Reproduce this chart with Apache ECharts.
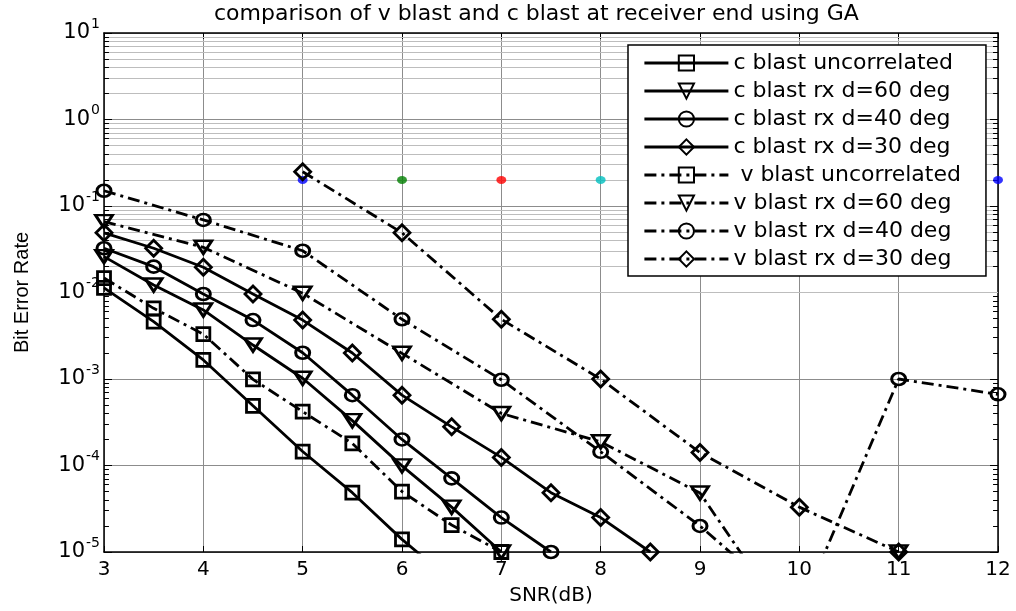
<!DOCTYPE html>
<html>
<head>
<meta charset="utf-8">
<script src="https://cdn.jsdelivr.net/npm/echarts@6/dist/echarts.min.js"></script>
<style>html,body{margin:0;padding:0;background:#fff}#c{width:1016px;height:611px}</style>
</head>
<body>
<div id="c"></div>
<script>
// ---- data ----
const titleText = 'comparison of v blast and c blast at receiver end using GA';
const xTicks = [3, 4, 5, 6, 7, 8, 9, 10, 11, 12];

const cUncorrX = [3, 3.5, 4, 4.5, 5, 5.5, 6, 6.5];
const cUncorrY = [0.0113, 0.0046, 0.00166, 0.00049, 0.000145, 4.85e-5, 1.4e-5, 4.6e-6];

const c60X = [3, 3.5, 4, 4.5, 5, 5.5, 6, 6.5, 7];
const c60Y = [0.026, 0.0122, 0.00628, 0.00247, 0.00102, 3.3e-4, 9.9e-5, 3.3e-5, 1e-5];

const c40X = [3, 3.5, 4, 4.5, 5, 5.5, 6, 6.5, 7, 7.5];
const c40Y = [0.0325, 0.0199, 0.0096, 0.0048, 0.00201, 6.5e-4, 2.0e-4, 7.1e-5, 2.5e-5, 1e-5];

const c30X = [3, 3.5, 4, 4.5, 5, 5.5, 6, 6.5, 7, 7.5, 8, 8.5];
const c30Y = [0.049, 0.0325, 0.0196, 0.0096, 0.0048, 0.002, 6.5e-4, 2.8e-4, 1.24e-4, 4.85e-5, 2.5e-5, 1e-5];

const vUncorrX = [3, 3.5, 4, 4.5, 5, 5.5, 6, 6.5, 7];
const vUncorrY = [0.0147, 0.00656, 0.0033, 0.00099, 0.00042, 0.00018, 5.0e-5, 2.05e-5, 1e-5];

const v60X = [3, 4, 5, 6, 7, 8, 9, 10, 11];
const v60Y = [0.066, 0.0333, 0.0098, 0.00198, 4.0e-4, 1.88e-4, 4.8e-5, 1e-6, 1e-5];

const v40X = [3, 4, 5, 6, 7, 8, 9, 10, 11, 12];
const v40Y = [0.150, 0.069, 0.0304, 0.0049, 0.00098, 1.44e-4, 2.0e-5, 2e-6, 1e-3, 6.65e-4];

const v30X = [5, 6, 7, 8, 9, 10, 11];
const v30Y = [0.249, 0.049, 0.0049, 1e-3, 1.41e-4, 3.3e-5, 1e-5];

const dotX = [5, 6, 7, 8, 9, 10, 11, 12];
const dotY = [0.2, 0.2, 0.2, 0.2, 0.2, 0.2, 0.2, 0.2];

const seriesNames = ['c blast uncorrelated', 'c blast rx d=60 deg', 'c blast rx d=40 deg', 'c blast rx d=30 deg',
  ' v blast uncorrelated', 'v blast rx d=60 deg', 'v blast rx d=40 deg', 'v blast rx d=30 deg'];

// ---- styles ----
const dotColors = ['#0000ff', '#008000', '#ff0000', '#00bfbf', '#bf00bf', '#bfbf00', '#404040', '#0000ff'];
const FONT = 'DejaVu Sans';
const DASHDOT = [12, 5, 3, 5];
const triDown = 'path://M0,0L20,0L10,16Z';
const yMin = 1e-5, yMax = 10;
const xMin = 3, xMax = 12;

function zip(xs, ys) { return ys.map((y, i) => [xs[i], y]); }

function mkLine(name, xs, ys, symbol, size, dashed) {
  return {
    type: 'line', name: name, data: zip(xs, ys),
    symbol: symbol, symbolSize: size, showSymbol: true, showAllSymbol: true,
    clip: true, z: 3, animation: false, silent: true,
    lineStyle: { color: '#000', width: 2.8, type: dashed ? DASHDOT : 'solid', cap: 'butt' },
    itemStyle: { color: 'rgba(0,0,0,0)', borderColor: '#000', borderWidth: 2.8 },
    emphasis: { disabled: true }
  };
}

// minor grid lines / minor ticks at 2..9 x 10^k (values only, mapped by the log axis)
const minorVals = [];
for (let k = -5; k <= 0; k++) for (let m = 2; m <= 9; m++) minorVals.push(m * Math.pow(10, k));
const markData = [];
minorVals.forEach(v => markData.push({ yAxis: v, lineStyle: { color: '#bdbdbd', width: 1, type: 'solid' } }));
minorVals.forEach(v => {
  markData.push([{ coord: [xMin, v], lineStyle: { color: '#000', width: 1, type: 'solid' } }, { coord: [xMin + 0.05, v] }]);
  markData.push([{ coord: [xMax - 0.05, v], lineStyle: { color: '#000', width: 1, type: 'solid' } }, { coord: [xMax, v] }]);
});

const series = [
  {
    type: 'scatter', name: 'dots', data: zip(dotX, dotY), symbol: 'circle', symbolSize: [10, 8],
    z: 2, animation: false, silent: true,
    itemStyle: { color: p => dotColors[p.dataIndex] },
    markLine: { silent: true, symbol: ['none', 'none'], label: { show: false }, z: 1, animation: false,
      emphasis: { disabled: true }, data: markData }
  },
  mkLine(seriesNames[0], cUncorrX, cUncorrY, 'rect', [13, 13], false),
  mkLine(seriesNames[1], c60X, c60Y, triDown, [17, 13], false),
  mkLine(seriesNames[2], c40X, c40Y, 'circle', [14, 12], false),
  mkLine(seriesNames[3], c30X, c30Y, 'diamond', [16, 16], false),
  mkLine(seriesNames[4], vUncorrX, vUncorrY, 'rect', [13, 13], true),
  mkLine(seriesNames[5], v60X, v60Y, triDown, [17, 13], true),
  mkLine(seriesNames[6], v40X, v40Y, 'circle', [14, 12], true),
  mkLine(seriesNames[7], v30X, v30Y, 'diamond', [16, 16], true)
];

const supFmt = v => '{b|10}{s|' + Math.round(Math.log10(v)) + '}';

const option = {
  backgroundColor: '#fff',
  animation: false,
  textStyle: { fontFamily: FONT, color: '#000' },
  title: {
    text: titleText, left: 214, top: 3, padding: 0,
    textStyle: { fontFamily: FONT, fontSize: 22, fontWeight: 'normal', color: '#000' }
  },
  grid: { left: 104, right: 18, top: 33, bottom: 59, containLabel: false },
  legend: {
    data: seriesNames, orient: 'vertical', left: 628, top: 45,
    padding: [7, 25, 6, 15], itemGap: 6, itemWidth: 84, itemHeight: 19,
    backgroundColor: '#fff', borderColor: '#000', borderWidth: 1.5,
    textStyle: { fontFamily: FONT, fontSize: 22, color: '#000' },
    lineStyle: { width: 2.8 },
    selectedMode: false
  },
  xAxis: [{
    type: 'value', min: xMin, max: xMax, interval: 1,
    name: 'SNR(dB)', nameLocation: 'middle', nameGap: 34,
    nameTextStyle: { fontFamily: FONT, fontSize: 20, color: '#000' },
    axisLine: { show: true, onZero: false, lineStyle: { color: '#000', width: 1.5 } },
    axisTick: { show: true, inside: true, length: 6, lineStyle: { color: '#000', width: 1 } },
    axisLabel: { margin: 8, fontFamily: FONT, fontSize: 20, color: '#000',
      formatter: v => (xTicks.indexOf(v) >= 0 ? String(v) : '') },
    splitLine: { show: true, lineStyle: { color: '#8c8c8c', width: 1 } }
  }, {
    type: 'value', min: xMin, max: xMax, interval: 1, position: 'top',
    axisLine: { show: true, onZero: false, lineStyle: { color: '#000', width: 1.5 } },
    axisTick: { show: true, inside: true, length: 6, lineStyle: { color: '#000', width: 1 } },
    axisLabel: { show: false }, splitLine: { show: false }
  }],
  yAxis: [{
    type: 'log', logBase: 10, min: yMin, max: yMax, splitNumber: 6,
    name: 'Bit Error Rate', nameLocation: 'middle', nameGap: 72, nameRotate: 90,
    nameTextStyle: { fontFamily: 'Liberation Sans', fontSize: 20, color: '#000' },
    axisLine: { show: true, onZero: false, lineStyle: { color: '#000', width: 1.5 } },
    axisTick: { show: true, inside: true, length: 8, lineStyle: { color: '#000', width: 1 } },
    axisLabel: {
      margin: 4, formatter: supFmt,
      rich: {
        b: { fontFamily: FONT, fontSize: 21, color: '#000' },
        s: { fontFamily: FONT, fontSize: 14, color: '#000', padding: [0, 0, 18, 1] }
      }
    },
    splitLine: { show: true, lineStyle: { color: '#8c8c8c', width: 1 } }
  }, {
    type: 'log', logBase: 10, min: yMin, max: yMax, splitNumber: 6, position: 'right',
    axisLine: { show: true, onZero: false, lineStyle: { color: '#000', width: 1.5 } },
    axisTick: { show: true, inside: true, length: 8, lineStyle: { color: '#000', width: 1 } },
    axisLabel: { show: false }, splitLine: { show: false }
  }],
  series: series
};

const chart = echarts.init(document.getElementById('c'), null, { renderer: 'canvas' });
chart.setOption(option);
</script>
</body>
</html>
